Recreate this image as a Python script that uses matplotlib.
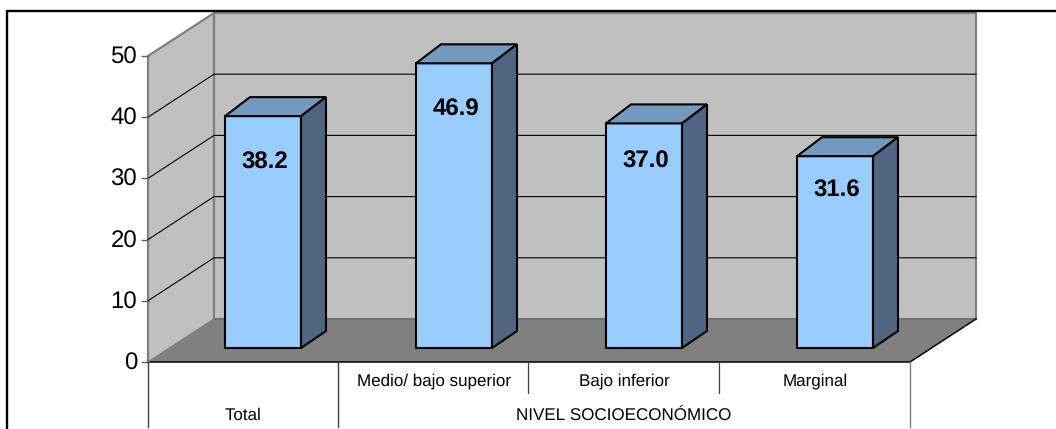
import matplotlib
matplotlib.use("Agg")
from matplotlib import pyplot as plt
from matplotlib.patches import Polygon

categories = ["Total", "Medio/ bajo superior", "Bajo inferior", "Marginal"]
group_labels = ["Total", "NIVEL SOCIOECONÓMICO"]
values = [38.2, 46.9, 37.0, 31.6]
yticks = [0, 10, 20, 30, 40, 50]

plt.rcParams['font.family'] = ['Liberation Sans', 'DejaVu Sans']
plt.rcParams['text.hinting'] = 'no_hinting'
plt.rcParams['text.hinting_factor'] = 1

fig = plt.figure(figsize=(10.56, 4.29), dpi=100)
ax = fig.add_axes([0, 0, 1, 1])
# pixel coordinates, y going down like in the picture
ax.set_xlim(0, 1056)
ax.set_ylim(429, 0)
ax.axis("off")

x0, x1 = 148, 910
y0 = 362
unit = 6.12
dx, dy = 66, -43
bar_left = [225, 416, 606, 797]
bar_w = 76
bar_base = 348
bar_unit = 6.07
bdx, bdy = 25, -17
top_dy = -19
# how far under the bar top each label sits
label_dy = [46, 46, 38, 34]


def poly(pts, color, edge="none", lw=0, z=1):
    ax.add_patch(Polygon(pts, closed=True, facecolor=color, edgecolor=edge, linewidth=lw, zorder=z, joinstyle="miter"))


# outer frame, open on the right
ax.plot([7, 7, 1056], [429, 11, 11], color="black", lw=1.7, zorder=6, solid_capstyle="butt")

# walls and floor
top = y0 - 50 * unit
poly([(x0 + dx, top + dy), (x1 + dx, top + dy), (x1 + dx, y0 + dy), (x0 + dx, y0 + dy)], "#c0c0c0", z=1)
poly([(x0, top), (x0 + dx, top + dy), (x0 + dx, y0 + dy), (x0, y0)], "#c0c0c0", z=1)
poly([(x0, y0), (x0 + dx, y0 + dy), (x1 + dx, y0 + dy), (x1, y0)], "#808080", z=2)
ax.plot([x0, x0, x0 + dx, x1 + dx, x1 + dx], [y0, top, top + dy, top + dy, y0 + dy], color="#808080", lw=1.6, zorder=2)
ax.plot([x0 + dx, x0 + dx], [top + dy, y0 + dy], color="#808080", lw=1.6, zorder=2)
ax.plot([x0 + dx, x1 + dx], [y0 + dy, y0 + dy], color="#707070", lw=1.5, zorder=2)

# gridlines and ticks
for t in yticks[1:-1]:
    y = y0 - t * unit
    ax.plot([x0, x0 + dx, x1 + dx], [y, y + dy, y + dy], color="black", lw=0.8, zorder=2)
for t in yticks:
    y = y0 - t * unit
    ax.plot([x0 - 6, x0], [y, y], color="#606060", lw=1, zorder=3)
    ax.text(x0 - 11, y + 1.5, str(t), ha="right", va="center", fontsize=17, color="black")

# floor front edge + side edge
ax.plot([x0, x1, x1 + dx], [y0, y0, y0 + dy], color="black", lw=1.1, zorder=3)
ax.plot([x0, x0 + dx], [y0, y0 + dy], color="#808080", lw=1, zorder=3)

# bars
for i, v in enumerate(values):
    left = bar_left[i]
    right = left + bar_w
    yt = bar_base - v * bar_unit
    poly([(left, yt), (right, yt), (right, bar_base), (left, bar_base)], "#99ccff", "black", 1.5, 4)
    poly([(left, yt), (left + bdx, yt + top_dy), (right + bdx, yt + top_dy), (right, yt)], "#7399bf", "black", 1.5, 4)
    poly([(right, yt), (right + bdx, yt + top_dy), (right + bdx, bar_base + bdy), (right, bar_base)], "#4f6580", "black", 1.5, 4)
    ax.text(left + bar_w / 2 + 1.5, yt + label_dy[i], f"{v:.1f}", ha="center", va="center", fontsize=17, fontweight="bold", zorder=5)

# category axis table
sep = [148, 338, 528, 719, 910]
for s in sep:
    if s in (528, 719):
        ax.plot([s, s], [y0, 393], color="#404040", lw=0.9, zorder=3)
    else:
        c = "#808080" if s == 910 else "#404040"
        ax.plot([s, s], [y0, 427], color=c, lw=1, zorder=3)
for i in range(1, 4):
    ax.text((sep[i] + sep[i + 1]) / 2 + 1, 381, categories[i], ha="center", va="center", fontsize=12)
ax.text(243, 415, group_labels[0], ha="center", va="center", fontsize=12)
ax.text(624, 415, group_labels[1], ha="center", va="center", fontsize=12)

fig.savefig("out.png", dpi=100)
